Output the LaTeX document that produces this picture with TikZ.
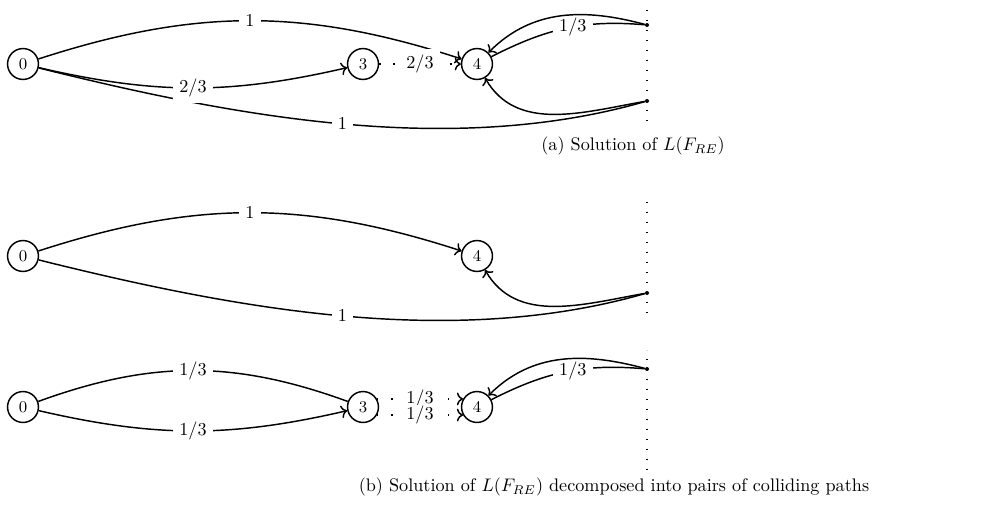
\documentclass[tikz,border=0pt]{standalone}
\usepackage{amsmath,amssymb}
\usetikzlibrary{arrows.meta,positioning}

\begin{document}
\begin{tikzpicture}[
    x=0.55pt, y=0.55pt,
    state/.style={draw, thick, circle, inner sep=0pt, minimum size=17pt, font=\small},
    portal/.style={circle, fill, inner sep=0pt, minimum size=2.2pt},
    arr/.style={->, thick},
    flow/.style={thick},
    lbl/.style={fill=white},
    border/.style={line width=0.7pt, dash pattern=on 0.7pt off 4.8pt},
    dotarr/.style={->, thick, dash pattern=on 0.8pt off 7pt},
    wrap/.style={out=-14, in=196, looseness=0.85}
]
\useasboundingbox (0,0) rectangle (994,508);

% (a) solution
\node[state] (a0) at (23,444) {0};
\node[state] (a3) at (363,444) {3};
\node[state] (a4) at (477,444) {4};
\node[portal] (ta) at (647,483) {};
\node[portal] (tb) at (647,407) {};
\draw[border] (647,387) -- (647,501);
\draw[flow] (a0) to[wrap] node[lbl] {1} (tb);
\draw[arr] (a0) to[bend right=13] node[lbl] {2/3} (a3);
\draw[arr] (a0) to[bend left=18] node[lbl] {1} (a4);
\draw[dotarr] (a3) -- node[lbl] {2/3} (a4);
\draw[arr] (tb) to[out=190,in=-60] (a4);
\draw[flow] (a4) to[out=27,in=175] node[lbl, pos=0.55] {1/3} (ta);
\draw[arr] (ta) to[out=165,in=45] (a4);
\node (capa) at (633,362) {(a) Solution of $L(F_{RE})$};

% (b) first pair
\node[state] (b0) at (23,252) {0};
\node[state] (b4) at (477,252) {4};
\node[portal] (bd) at (647,215) {};
\draw[border] (647,195) -- (647,310);
\draw[arr] (b0) to[bend left=18] node[lbl] {1} (b4);
\draw[flow] (b0) to[wrap] node[lbl] {1} (bd);
\draw[arr] (bd) to[out=190,in=-60] (b4);

% (b) second pair
\node[state] (c0) at (23,101) {0};
\node[state] (c3) at (363,101) {3};
\node[state] (c4) at (477,101) {4};
\node[portal] (cd) at (647,139) {};
\draw[border] (647,38) -- (647,158);
\draw[flow] (c0) to[bend left=20] node[lbl] {1/3} (c3);
\draw[arr] (c0) to[bend right=13] node[lbl] {1/3} (c3);
\draw[dotarr] (c3.30) -- node[lbl, inner ysep=0.5pt] {1/3} (c4.150);
\draw[dotarr] (c3.-30) -- node[lbl, inner ysep=0.5pt] {1/3} (c4.-150);
\draw[flow] (c4) to[out=27,in=175] node[lbl, pos=0.55] {1/3} (cd);
\draw[arr] (cd) to[out=165,in=45] (c4);
\node (capb) at (614,21) {(b) Solution of $L(F_{RE})$ decomposed into pairs of colliding paths};
\end{tikzpicture}
\end{document}
